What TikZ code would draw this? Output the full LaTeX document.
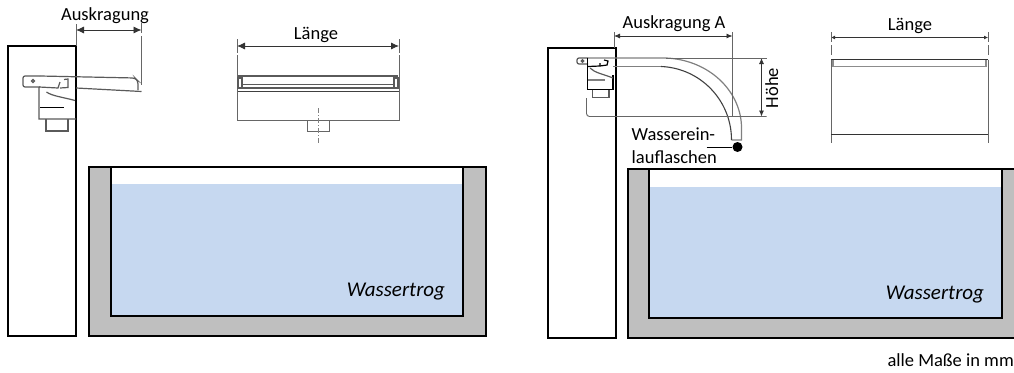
\documentclass[tikz,border=0pt]{standalone}
\usepackage{fontspec}
\setmainfont{Carlito}
\usetikzlibrary{arrows.meta}
\definecolor{wasser}{HTML}{C6D8F0}
\definecolor{beton}{HTML}{BFBFBF}
\definecolor{linie}{HTML}{5A5A5A}
\tikzset{
	wand/.style={draw=black,line width=1.5pt,fill=white},
	trog/.style={draw=black,line width=1.5pt,fill=beton},
	kontur/.style={draw=linie,line width=1.2pt},
	masslinie/.style={draw=black!80,line width=0.8pt,<->},
	hilfslinie/.style={draw=black!60,line width=0.9pt},
	schrift/.style={font=\fontsize{18.5}{22}\selectfont,text=black,inner sep=0pt},
	trogschrift/.style={font=\fontsize{21}{24}\selectfont\itshape,text=black,inner sep=0pt},
}
\begin{document}
\begin{tikzpicture}[x=1pt,y=-1pt,>={Latex[length=8pt,width=7pt]}]
	\useasboundingbox (0,0) rectangle (1014,372);
	\foreach \xa/\xb/\ya/\yb in {8/76/46/336,548/616/48/338}{
		\draw[wand] (\xa,\ya) rectangle (\xb,\yb);
	}
	\fill[beton] (89,167) rectangle (486,336);
	\fill[white] (111,167) rectangle (463,184);
	\fill[wasser] (111,184) rectangle (463,316);
	\draw[trog,fill=none] (89,167) -- (486,167) -- (486,336) -- (89,336) -- cycle;
	\draw[line width=1.5pt] (111,167) -- (111,316) -- (463,316) -- (463,167);
	\node[trogschrift,anchor=base] (trogL) at (396,296) {Wassertrog};
	\fill[beton] (628,169) rectangle (1014,338);
	\fill[white] (649,169) rectangle (1002,187);
	\fill[wasser] (649,187) rectangle (1002,318);
	\draw[line width=1.5pt] (1014,169) -- (628,169) -- (628,338) -- (1014,338);
	\draw[line width=1.5pt] (649,169) -- (649,318) -- (1002,318) -- (1002,169);
	\node[trogschrift,anchor=base] (trogR) at (935,299) {Wassertrog};
	\node[schrift,anchor=base east] (alleMasse) at (1014,366) {alle Maße in mm};

	\draw[kontur,rounded corners=2pt] (40,76) -- (23,76) -- (23,87) -- (40,87);
	\draw[kontur] (33,81) circle (1.5);
	\draw[kontur,rounded corners=3pt] (40,76) -- (135,78) -- (138,81) -- (138,90);
	\draw[kontur] (76,88) -- (141.5,91.5);
	\draw[kontur] (39,87) -- (39,119) -- (76,119) (39,87) -- (58,88) -- (60,82) (60,88) -- (68,87.5) -- (68,79) -- (64,79.5);
	\draw[kontur] (46.5,92) .. controls (52,96) and (62,97) .. (75,100.5);
	\draw[kontur,draw=black] (40,107.5) -- (64,107.5);
	\draw[kontur] (46,119) -- (46,131) -- (68,131) -- (68,119);
	\coordinate (ausA) at (76,30);
	\coordinate (ausB) at (141.5,30);
	\draw[masslinie] (ausA) -- (ausB);
	\draw[hilfslinie] (76,24) -- (76,46) (141.5,23) -- (141.5,33) (141.5,36) -- (141.5,85);
	\node[schrift,anchor=base] (auskragung) at (105,20) {Auskragung};

	\coordinate (laengeA) at (237,46);
	\coordinate (laengeB) at (399,46);
	\draw[masslinie] (laengeA) -- (laengeB);
	\draw[hilfslinie] (237,39) -- (237,53) (237,55) -- (237,120) -- (399,120) -- (399,55) (399,53) -- (399,39);
	\draw[linie,line width=2pt] (238,76) -- (398,76);
	\draw[kontur] (243,84.5) -- (394,84.5) (238,88) -- (399,88) (238,78) rectangle (242,88) (394,78) rectangle (398,88);
	\draw[draw=black!75,line width=1.2pt] (238,91.5) -- (399,91.5);
	\draw[hilfslinie] (307.5,120) -- (307.5,131) -- (329.5,131) -- (329.5,120);
	\draw[draw=black!50,line width=0.8pt,dash pattern=on 5pt off 2pt on 1pt off 2pt] (318,108) -- (318,143);
	\node[schrift,anchor=base] (laenge) at (316,39) {Länge};

	\draw[kontur,rounded corners=2pt] (588,58) -- (577,58) -- (577,64) -- (588,64);
	\draw[kontur] (582.5,61) circle (1.3);
	\draw[draw=black,line width=1.1pt] (587.5,58) -- (587.5,89.5) -- (613,89.5);
	\draw[draw=black,line width=2pt] (613,75) -- (613,89.5);
	\draw[kontur] (590,68) .. controls (595,73) and (603,74) .. (613,78);
	\draw[kontur,draw=black!50] (588,80) -- (605,80);
	\draw[kontur,draw=black] (588,66.5) -- (600,66) -- (600,63) (600,66) -- (607,65) -- (608,61) -- (604,60);
	\draw[kontur] (592.5,89.5) -- (592.5,97.5) -- (609,97.5) -- (609,89.5);
	\draw[kontur,draw=black!50] (588,58) -- (666,58) .. controls (710,60) and (741.5,92) .. (741.5,128) -- (741.5,140) -- (731.5,140);
	\draw[kontur,draw=black!50] (613,66.5) -- (661,66.5);
	\draw[draw=black!75,line width=1.1pt] (661,66.5) .. controls (700,68) and (731.5,100) .. (731.5,140);
	\coordinate (ausAa) at (614,36);
	\coordinate (ausAb) at (732.5,36);
	\draw[masslinie,>={Latex[length=6pt,width=5pt]}] (ausAa) -- (ausAb);
	\draw[hilfslinie] (614,32) -- (614,48) (732.5,32) -- (732.5,117);
	\node[schrift,anchor=base] (auskragungA) at (674,28) {Auskragung A};
	\coordinate (hoeheA) at (761.5,58);
	\coordinate (hoeheB) at (761.5,116.5);
	\draw[masslinie,>={Latex[length=6pt,width=5pt]}] (hoeheA) -- (hoeheB);
	\draw[hilfslinie] (666,58) -- (766.5,58);
	\draw[hilfslinie,rounded corners=3pt] (586.5,98) -- (586.5,116.5) -- (766.5,116.5);
	\node[schrift,rotate=90,anchor=base] (hoehe) at (778,88) {Höhe};
	\node[schrift,anchor=base west] (wasserein) at (631.5,140) {Wasserein-};
	\node[schrift,anchor=base west] (lauflaschen) at (631.5,163) {lauflaschen};
	\node[circle,fill=black,inner sep=0pt,minimum size=10pt] (punkt) at (737.5,147) {};
	\coordinate (leiter) at (706.5,147);
	\draw[line width=0.8pt] (leiter) -- (punkt);

	\coordinate (laengeC) at (831,37.5);
	\coordinate (laengeD) at (988,37.5);
	\draw[masslinie,>={Latex[length=4pt,width=4pt]}] (laengeC) -- (laengeD);
	\draw[hilfslinie] (831,32) -- (831,42) (831,45) -- (831,55) (988,32) -- (988,42) (988,45) -- (988,55);
	\draw[hilfslinie] (831,59.5) -- (831,143) (988,59.5) -- (988,143);
	\draw[draw=black!80,line width=1.1pt] (831,59.5) -- (988,59.5) (831,134.5) -- (988,134.5);
	\draw[kontur,draw=black!45,line width=1.6pt] (832,66.5) -- (987,66.5);
	\draw[kontur,draw=black!45] (833,60) -- (833,66) (986,60) -- (986,66);
	\node[schrift,anchor=base] (laengeR) at (910,30) {Länge};
\end{tikzpicture}
\end{document}
